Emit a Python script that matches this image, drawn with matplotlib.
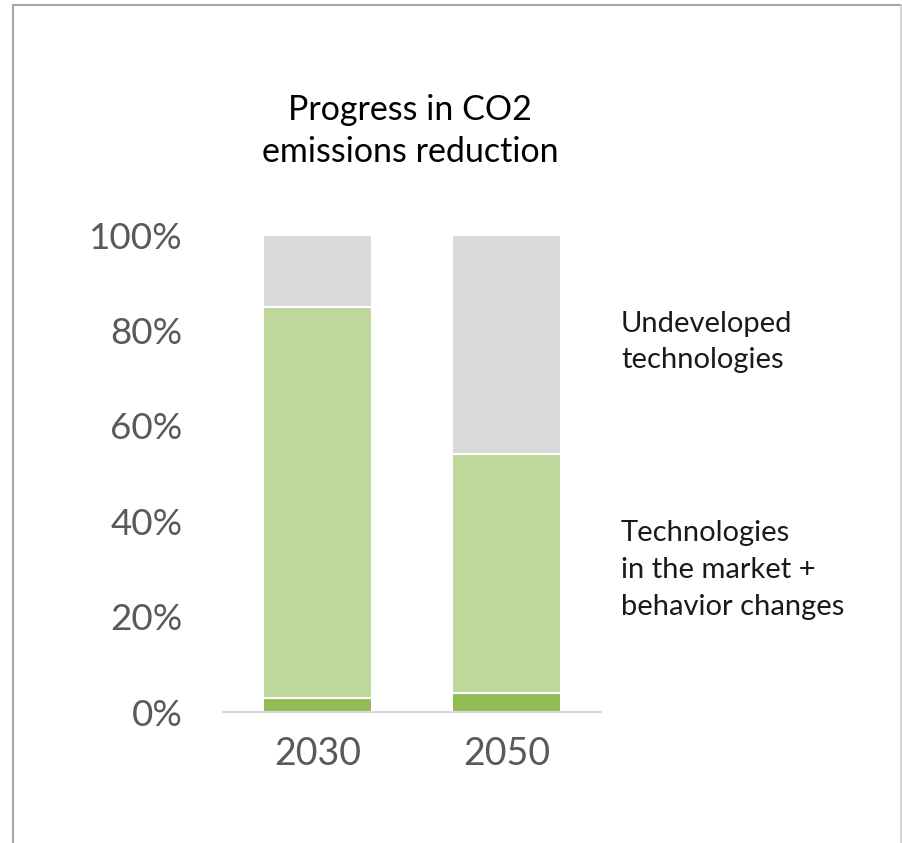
import matplotlib
matplotlib.use("Agg")
import matplotlib.pyplot as plt
from matplotlib.lines import Line2D

years = ["2030", "2050"]
base = [0.03, 0.04]          # dark green segment
market = [0.82, 0.50]        # technologies in market + behavior changes
undeveloped = [0.15, 0.46]   # undeveloped technologies
yticks = [0, 0.2, 0.4, 0.6, 0.8, 1.0]
ytick_labels = ["0%", "20%", "40%", "60%", "80%", "100%"]
title = "Progress in CO2\nemissions reduction"
label_top = "Undeveloped\ntechnologies"
label_bottom = "Technologies\nin the market +\nbehavior changes"

c_dark = "#91BB55"
c_light = "#BED79B"
c_gray = "#D9D9D9"
tick_col = "#595959"
font = "Lato"

W, H = 902, 843
fig = plt.figure(figsize=(W / 100, H / 100), dpi=100)
fig.patch.set_facecolor("white")
ax = fig.add_axes([223 / W, (H - 712) / H, 378 / W, 477 / H])

x = list(range(len(years)))
w = 0.58
ax.bar(x, base, width=w, color=c_dark, edgecolor="white", linewidth=1.5, zorder=2)
b2 = [b for b in base]
ax.bar(x, market, width=w, bottom=b2, color=c_light, edgecolor="white", linewidth=1.5, zorder=2)
b3 = [b + m for b, m in zip(base, market)]
ax.bar(x, undeveloped, width=w, bottom=b3, color=c_gray, edgecolor="white", linewidth=1.5, zorder=2)

ax.set_xlim(-0.5, 1.5)
ax.set_ylim(0, 1.0)
ax.set_yticks(yticks)
ax.set_yticklabels(ytick_labels, fontsize=26.5, color=tick_col, family=font)
ax.set_xticks(x)
ax.set_xticklabels(years, fontsize=27, color=tick_col, family=font)
ax.tick_params(axis="y", length=0, pad=29)
ax.tick_params(axis="x", length=0, pad=17)
for s in ["top", "right", "left"]:
    ax.spines[s].set_visible(False)
ax.spines["bottom"].set_color(c_gray)
ax.spines["bottom"].set_linewidth(1.5)
ax.spines["bottom"].set_zorder(3)
ax.set_facecolor("none")

fig.text(410 / W, 1 - 131 / H, title, ha="center", va="center", fontsize=24.5,
         color="black", family=font, linespacing=1.38)
fig.text(621 / W, 1 - 342 / H, label_top, ha="left", va="center", fontsize=21,
         color="#1a1a1a", family=font, linespacing=1.5)
fig.text(621 / W, 1 - 570 / H, label_bottom, ha="left", va="center", fontsize=21,
         color="#1a1a1a", family=font, linespacing=1.5)

# outer frame lines
fig.add_artist(Line2D([13 / W, 1.0], [1 - 5 / H, 1 - 5 / H], color="#A6A6A6", lw=1.5,
                      transform=fig.transFigure))
fig.add_artist(Line2D([13 / W, 13 / W], [0, 1 - 5 / H], color="#A6A6A6", lw=1.5,
                      transform=fig.transFigure))
fig.add_artist(Line2D([900.5 / W, 900.5 / W], [0, 1 - 5 / H], color="#D0D0D0", lw=1.2,
                      transform=fig.transFigure))

fig.savefig("out.png", dpi=100, facecolor="white")
